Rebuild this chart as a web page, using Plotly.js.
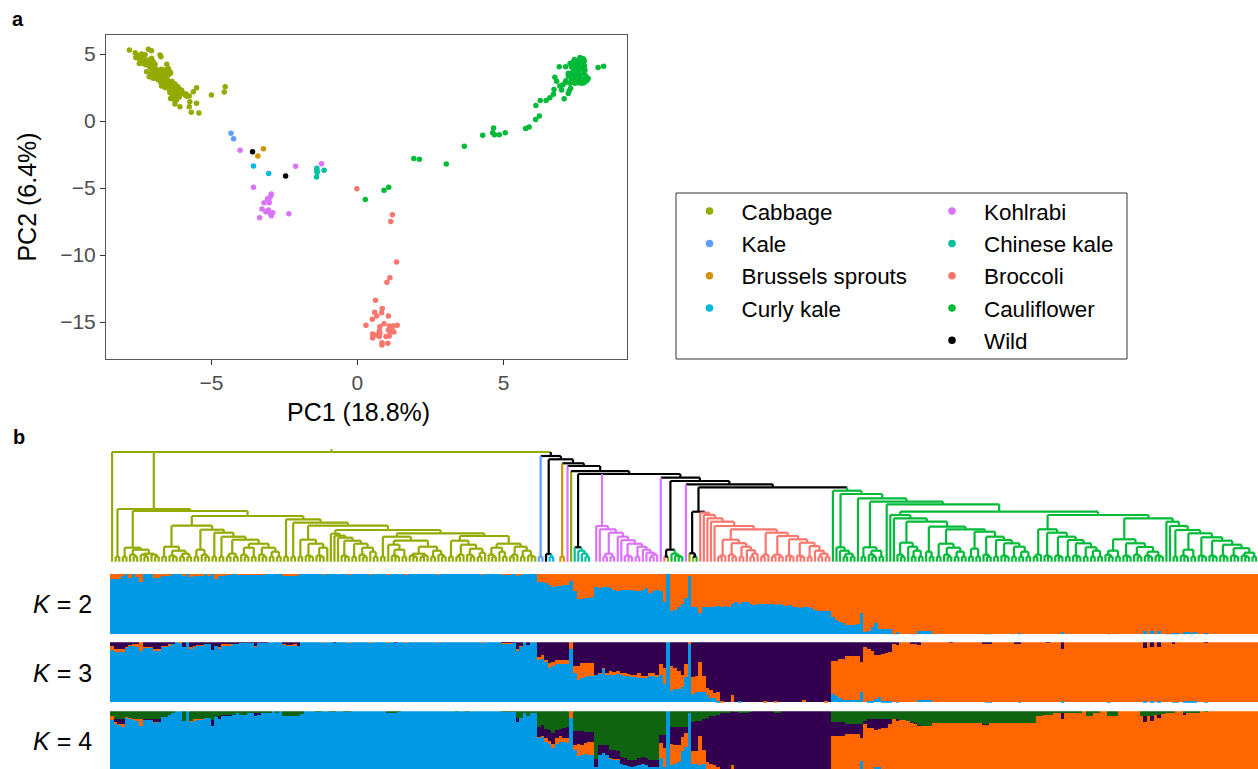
<!DOCTYPE html>
<html>
<head>
<meta charset="utf-8">
<script src="https://cdn.plot.ly/plotly-3.0.1.min.js"></script>
<style>html,body{margin:0;padding:0;background:#fff;overflow:hidden}#chart{width:1258px;height:769px}</style>
</head>
<body>
<div id="chart"></div>
<script>
// ---------- PCA scores (PC1, PC2) ----------
const cabbageX = [-7.81,-7.61,-7.59,-7.50,-7.33,-7.27,-7.16,-7.05,-6.76,-6.73,-7.47,-7.33,-7.39,-7.05,-7.05,-6.93,-6.53,-7.22,-7.13,-7.05,-6.93,-6.88,-6.82,-6.71,-6.65,-6.59,-6.48,-6.42,-6.40,-6.99,-6.88,-6.76,-6.59,-6.65,-6.71,-6.53,-6.48,-6.42,-6.25,-6.36,-6.25,-6.14,-6.08,-6.19,-6.31,-6.42,-6.14,-6.02,-5.96,-6.17,-6.25,-6.19,-6.25,-6.08,-5.76,-5.62,-5.51,-5.87,-5.74,-5.76,-5.51,-5.69,-5.43,-5.00,-4.53,-4.56,-7.11,-7.06,-6.99,-6.85,-6.93,-6.74,-6.63,-6.56,-6.50,-6.36,-6.31,-6.22,-6.10,-6.06,-6.21,-6.28,-6.40,-6.99,-7.11,-7.22,-7.30,-7.39,-7.54,-6.78,-6.67,-6.48,-6.90,-6.82,-6.73,-6.59,-6.44,-6.33,-6.40,-6.28,-6.15,-6.02,-5.90,-6.55,-6.70,-6.60,-7.00,-6.95,-7.25,-7.40,-7.15,-6.35,-6.20,-6.30,-6.10,-5.85];
const cabbageY = [5.30,5.10,4.75,4.68,4.80,4.95,5.35,5.25,4.93,4.80,4.30,4.30,4.55,4.68,4.30,4.23,4.23,3.68,3.31,3.86,3.93,3.68,3.43,3.86,3.68,3.56,3.93,3.68,3.56,3.56,3.18,3.11,3.31,2.93,2.61,2.81,2.69,2.51,2.76,2.31,2.44,2.44,2.36,2.19,2.11,2.11,2.06,2.19,2.06,1.94,1.69,1.57,1.27,1.07,1.87,2.19,2.49,2.01,1.44,1.07,1.32,0.65,0.60,1.94,2.56,2.16,4.03,3.53,4.05,3.36,3.31,3.56,3.11,2.69,3.06,2.56,2.51,2.36,2.26,2.06,2.06,2.31,2.81,4.43,4.18,4.43,4.60,5.00,4.93,3.81,3.43,3.43,3.61,3.06,2.86,2.51,2.31,1.94,1.69,1.60,2.55,2.30,1.95,3.75,3.30,3.80,3.20,3.90,4.20,4.75,4.55,2.95,2.10,1.90,1.80,1.85];
const kaleX = [-4.33,-4.24];
const kaleY = [-0.92,-1.32];
const brusselsX = [-3.22,-3.41];
const brusselsY = [-2.07,-2.61];
const curlyX = [-3.56,-3.04];
const curlyY = [-3.36,-3.91];
const kohlrabiX = [-4.02,-2.12,-1.23,-3.56,-2.95,-2.97,-3.08,-3.03,-3.20,-3.02,-3.27,-3.14,-3.05,-3.00,-2.90,-2.95,-3.35,-2.35];
const kohlrabiY = [-2.19,-3.38,-3.18,-4.95,-5.45,-5.60,-5.80,-5.85,-6.10,-6.10,-6.57,-6.77,-6.64,-6.84,-6.84,-7.07,-7.21,-6.92];
const chineseX = [-1.39,-1.39,-1.38,-1.14,-1.40];
const chineseY = [-3.53,-3.71,-3.83,-3.68,-4.18];
const broccoliX = [-0.02,1.20,1.14,1.34,1.11,1.01,0.62,0.85,0.59,0.83,0.66,1.06,0.51,0.29,0.91,0.77,1.09,1.22,1.36,1.06,0.75,1.25,1.12,0.52,0.75,0.52,0.98,1.09,0.84,0.84,1.04,0.66,1.17,0.77];
const broccoliY = [-5.05,-6.99,-7.49,-10.52,-11.69,-12.04,-13.38,-14.0,-14.28,-14.30,-14.55,-14.55,-14.80,-15.25,-15.12,-15.35,-15.30,-15.30,-15.25,-15.6,-15.65,-15.75,-15.75,-15.90,-16.09,-16.19,-16.09,-16.04,-16.54,-16.72,-16.59,-15.97,-15.5,-15.85];
const cauliX = [0.27,0.91,1.07,1.93,2.12,3.04,3.66,4.29,4.63,4.66,4.69,4.86,5.06,5.76,5.88,6.10,6.23,6.11,6.26,6.46,6.59,6.71,6.73,6.76,6.82,6.91,7.08,7.22,6.99,6.93,7.14,8.24,8.43,7.13,7.28,7.39,7.51,7.62,7.73,7.76,7.68,7.56,7.45,7.33,7.51,7.68,7.77,7.22,7.33,7.45,7.56,7.37,7.51,7.76,7.82,7.90,7.85,7.71,7.62,7.51,7.39,7.28,7.68,7.56,7.45,7.30,7.25,7.11,7.03,7.62,7.79,7.39,7.22,7.76,7.33,7.71,7.43,7.62,7.76];
const cauliY = [-5.85,-5.17,-4.95,-2.79,-2.86,-3.21,-1.89,-1.07,-0.87,-0.52,-1.02,-1.02,-0.87,-0.55,-0.45,0.12,0.37,1.15,1.54,1.54,1.74,1.99,2.36,3.26,2.96,4.05,1.67,2.06,2.31,2.61,3.01,4.00,4.08,4.05,4.30,4.43,4.50,4.55,4.65,4.43,4.30,4.18,4.25,4.05,3.93,4.00,4.10,3.56,3.56,3.56,3.68,3.31,3.36,3.56,3.36,3.18,3.01,3.11,3.18,3.06,2.94,2.81,2.81,2.86,2.81,2.44,2.26,2.86,2.69,3.43,3.81,3.81,3.36,2.86,3.11,3.86,4.60,4.75,4.55];
const wildX = [-3.59,-2.46];
const wildY = [-2.29,-4.11];

// ---------- Dendrogram: (height[colour] child child ...), leaf = group letter, _ = empty slot ----------
const p1 = "(5 a a)";
const t1 = "(6 a (5 a a))";
const t2 = "(7 a (5 a a))";
const cabA = `(14 ${p1} (12 ${t2} (8 ${t2} ${t2})))`;
const cabB1 = `(15 ${p1} (11 ${t1} (8 ${p1} ${p1})))`;
const cabBx = `(14 ${t2} ${p1})`;
const cabBy = `(14 ${t2} (10 ${p1} ${p1}))`;
const cabB3 = `(22 (8 ${p1} ${p1}) (18 ${cabBx} ${cabBy}))`;
const cabB2 = `(32 (12 ${p1} ${t2}) (29 ${p1} (25 ${p1} ${cabB3})))`;
const cabL0 = `(22 ${p1} (18 ${t1} (14 ${t1} a)))`;
const cabL1b = `(18 ${p1} (14 ${t2} (10 a ${p1})))`;
const cabL1 = `(28 a (26 a (24 a (21 ${t1} ${cabL1b}))))`;
const cabR1a = `(17 a (12 ${t1} ${p1}))`;
const cabR1b = `(15 (8 ${t1} (6 ${p1} a)) (11 ${p1} ${t2}))`;
const cabR1 = `(25 ${p1} (21 ${cabR1a} ${cabR1b}))`;
const cabR2L = `(21 ${p1} (17 (7 ${p1} a) (13 ${t2} (9 ${p1} a))))`;
const cabR2R = `(18 (14 ${t2} (10 a ${p1})) (15 (7 ${p1} a) (11 ${p1} ${t1})))`;
const cabR = `(28.4 ${cabR1} (25.7 ${cabR2L} ${cabR2R}))`;
const cabC = `(42.4 ${p1} (39 ${p1} (36 ${cabL0} (31.7 ${cabL1} ${cabR}))))`;
const cabbageClade = `(52.7 ${p1} (50.7 ${cabA} (45.7 (36 ${cabB1} ${cabB2}) ${cabC})))`;
const chineseClade = "(14.4w n (11 n (8 n (5 n n))))";
const rp = "(5 r r)";
const rt = "(6 r (5 r r))";
const kohlTail = `(15 ${rp} (12 r (9 r (7 ${rp} r))))`;
const kohlrabiClade = `(35.7 r (32.4 r (29 (8 ${rp} ${rp}) (25 r (21.5 r (18 ${rt} ${kohlTail}))))))`;
const mixedA = "(12 (5 o a) (8 f (6 f (5 f f))))";
const mixedB = "(8.4 a (5 a f))";
const op = "(5 o o)";
const ot = "(6 o (5 o o))";
const brocL = `(22 (6 ${op} o) (18.5 (7 o ${op}) (15 ${op} (11.5 o (8 ${op} o)))))`;
const brocTail = `(19 ${ot} (15.6 ${op} (11 o (8 ${op} ${op}))))`;
const brocR = `(29 (7 ${op} o) (25.7 (7 ${op} ${op}) (22.4 ${ot} ${brocTail})))`;
const broccoliClade = `(49 o (46.7 o (43.4 o (40 o (35.7 o (32.4 ${brocL} ${brocR}))))))`;
const fp = "(5 f f)";
const ft = "(6 f (5 f f))";
const ft2 = "(7 f (5 f f))";
const caulC1 = `(14.4 f (11 f (8 ${fp} ${fp})))`;
const caulC2 = `(14.4 ${fp} (11 ${ft2} ${fp}))`;
const caulD1 = `(19 ${ft2} (15 f (11 ${fp} ${fp})))`;
const caulD2 = `(10 f ${fp})`;
const caulD3 = `(18 ${fp} (14 ${ft2} (10 ${fp} ${fp})))`;
const caulD4 = `(13 ${fp} ${fp})`;
const caulD5 = `(25 ${ft2} (21.7 ${fp} (18.4 ${ft} (15 ${fp} (10 ${fp} ${fp})))))`;
const caulD = `(46.7 f (43.4 f (40 ${caulD1} (35 ${caulD2} (32.4 ${caulD3} (30 ${caulD4} ${caulD5}))))))`;
const caulE1t = `(21.7 ${fp} (18.4 ${ft} (14.4 ${fp} (11 ${fp} ${fp}))))`;
const caulE1 = `(32.4 (7 ${fp} f) (29 ${ft} (25 ${ft} ${caulE1t})))`;
const caulF1 = `(22.4 (11 ${ft2} ${fp}) (18.4 ${ft} (14.7 ${ft2} (10 ${ft} ${ft}))))`;
const caulF2t = `(17 ${ft} (13.5 ${ft} (9 ${ft} ${fp})))`;
const caulF2m = `(28.4 (12 ${ft} ${fp}) (24.4 ${ft} (21 ${ft} ${caulF2t})))`;
const caulF2 = `(40 f (35.7 f (31.7 ${fp} ${caulF2m})))`;
const caulE = `(46.7 ${caulE1} (43.4 ${caulF1} ${caulF2}))`;
const cauliflowerClade = `(71 f (67.7 ${caulC1} (63.4 f (60 ${caulC2} (57.4 f (50 ${caulD} ${caulE}))))))`;
const lowerClades = `(84 r (80.7 ${mixedA} (77.4 r (74.4 (50w ${mixedB} ${broccoliClade}) ${cauliflowerClade}))))`;
const midClades = `(95.7 r (90.5 a (87.7 ${chineseClade} _ ${kohlrabiClade} ${lowerClades})))`;
const otherClades = `(105.7 (5 k k) (102.4 (7.7 w (5 u u)) (98.4 _ (5 b b) ${midClades})))`;
const fullTree = `(109.7a a ${cabbageClade} ${otherClades})`;
const rootStemTop = 112.5;

// ---------- Ancestry shares per accession, % (remainder of each bar = orange) ----------
const k2Blue = [
91,91,91,97,100,94,100,95,87,100,100,100,94,94,97,98,98,100,100,100,
96,100,95,98,98,97,100,96,100,92,98,98,99,99,100,99,99,99,99,99,
99,99,99,100,100,100,100,100,98,98,98,97,99,100,100,100,100,100,100,99,
100,100,100,100,100,100,99,100,100,100,100,100,99,100,100,100,100,99,100,100,
100,100,99,100,100,100,100,100,100,100,100,99,100,100,100,100,100,100,100,100,
100,100,100,99,100,100,100,100,100,99,99,99,100,97,99,100,100,100,100,86,
87,85,81,79,80,80,81,81,88,71,58,59,60,60,62,79,76,78,78,76,
73,72,73,73,73,73,72,72,73,76,69,72,73,72,54,100,38,40,45,51,
61,98,45,45,35,45,46,45,46,47,45,47,45,51,54,51,54,54,51,49,
50,50,51,51,50,49,50,49,47,48,45,45,44,45,45,43,40,38,38,38,
38,29,24,21,18,15,15,15,17,35,4,6,12,18,8,8,8,8,1,3,
0,0,0,1,1,6,6,6,6,0,0,0,0,0,0,0,0,0,0,0,
0,0,0,0,1,1,0,0,0,0,0,0,0,2,0,0,0,0,0,0,
0,0,0,0,0,4,0,0,0,0,0,0,0,0,0,0,0,0,1,0,
0,0,0,0,0,0,0,0,6,0,5,0,5,0,1,1,2,2,0,3,
4,2,4,0,0,2,0,0,0,0,0,0,0,0,0,0,0,0,0,0];

const k3Blue = [
87,85,85,85,91,94,94,91,85,91,91,91,86,86,92,92,95,97,100,99,
92,100,90,92,94,94,96,96,86,94,89,95,95,95,98,98,99,99,99,99,
92,99,99,99,100,100,100,100,96,94,94,95,93,100,100,100,100,100,100,99,
100,100,99,100,100,100,99,100,100,100,100,100,99,100,100,100,100,99,100,99,
100,100,99,100,100,100,100,100,100,100,100,99,100,100,100,100,100,100,100,100,
100,100,100,99,100,100,100,100,100,98,98,98,99,86,93,100,95,100,100,71,
72,67,57,60,63,64,64,63,88,49,37,41,42,43,43,46,48,56,47,46,
46,47,46,44,44,43,43,41,41,42,44,44,42,46,30,100,19,22,23,26,
42,98,14,17,18,17,13,7,7,3,0,0,0,0,0,3,0,0,0,0,
0,0,0,0,0,0,0,0,0,0,0,0,0,0,0,0,0,0,0,0,
0,14,10,7,4,4,4,4,4,18,0,3,3,5,9,3,3,3,0,1,
0,0,0,0,0,4,4,4,4,0,0,0,0,0,0,0,0,0,0,0,
0,0,0,0,1,1,0,0,0,0,0,0,0,1,0,0,0,0,0,0,
0,0,0,0,0,2,0,0,0,0,0,0,0,0,0,0,0,0,1,0,
0,0,0,0,0,0,0,0,2,0,2,0,2,0,0,0,1,1,0,2,
2,2,2,0,0,1,0,0,0,0,0,0,0,0,0,0,0,0,0,0];

const k3Purple = [
6,12,12,12,8,5,4,3,0,8,8,8,11,11,7,7,4,3,0,0,
8,0,9,7,5,5,4,4,14,6,8,4,4,4,2,2,1,1,1,1,
7,1,1,1,0,0,0,0,3,5,5,4,7,0,0,0,0,0,0,0,
0,0,1,0,0,0,0,0,0,0,0,0,0,0,0,0,0,0,0,1,
0,0,0,0,0,0,0,0,0,0,0,0,0,0,0,0,0,0,0,0,
0,0,0,0,0,0,0,0,0,1,1,1,1,12,6,0,5,0,0,24,
22,29,34,33,29,30,30,29,0,39,40,34,34,34,34,54,51,43,51,48,
50,48,51,52,53,54,54,52,57,56,52,52,54,36,43,0,40,43,48,54,
36,0,58,57,33,57,76,79,84,83,97,100,100,88,100,97,100,100,100,100,
100,100,98,100,100,98,100,100,100,100,100,100,100,96,100,100,100,100,100,98,
100,32,32,28,28,23,23,23,23,33,9,12,15,21,22,20,19,16,2,5,
0,0,0,2,3,5,0,0,0,0,0,0,0,0,1,0,0,0,0,0,
0,0,0,2,2,2,0,0,0,0,0,0,2,2,0,0,0,0,0,0,
0,1,0,0,0,11,0,0,0,0,0,0,0,0,0,0,0,0,0,0,
0,0,0,0,0,0,0,0,10,0,9,0,9,0,0,0,3,0,0,0,
0,0,0,0,0,1,0,0,0,0,0,0,0,0,0,0,0,0,0,0];

const k4Blue = [
85,80,78,75,89,87,86,84,76,86,86,86,81,82,90,90,94,96,100,100,
83,100,82,85,86,86,89,89,76,90,86,92,92,92,94,96,94,94,96,96,
93,95,96,98,98,100,98,100,91,91,91,91,91,95,100,100,100,99,99,100,
100,99,99,100,100,99,99,100,100,100,100,100,100,100,100,100,100,97,98,98,
99,100,100,100,100,100,100,100,100,100,100,100,100,100,100,100,99,100,100,99,
100,100,100,100,100,100,100,100,100,99,99,99,99,82,88,97,92,97,97,56,
58,49,46,38,46,49,48,47,88,36,26,27,29,28,28,8,27,30,27,21,
19,19,13,11,9,8,9,11,13,11,8,8,8,22,8,100,11,13,16,33,
41,96,13,12,11,13,4,2,2,2,0,0,0,0,0,0,0,0,0,0,
0,0,0,0,0,0,0,0,0,0,0,0,0,0,0,0,0,0,0,0,
0,3,3,3,3,3,3,3,3,18,0,2,2,7,7,2,2,2,0,0,
0,0,0,0,0,0,0,0,0,0,0,0,0,0,0,0,0,0,0,0,
0,0,0,0,0,0,0,0,0,0,0,0,0,0,0,0,0,0,0,0,
0,0,0,0,0,0,0,0,0,0,0,0,0,0,0,0,0,0,0,0,
0,0,0,0,0,0,0,0,0,0,0,0,0,0,0,0,0,0,0,0,
0,0,0,0,0,0,0,0,0,0,0,0,0,0,0,0,0,0,0,0];

const k4Purple = [
0,6,8,8,0,0,0,0,0,1,1,1,5,5,0,0,0,0,0,0,
0,0,0,0,0,0,0,0,9,0,6,2,2,2,0,0,0,0,0,0,
3,1,0,0,0,0,0,0,0,0,0,0,0,0,0,0,0,0,0,0,
0,0,0,0,0,0,0,0,0,0,0,0,0,0,0,0,0,0,0,0,
0,0,0,0,0,0,0,0,0,0,0,0,0,0,0,0,0,0,0,0,
0,0,0,0,0,0,0,0,0,0,0,0,0,6,0,0,0,0,0,17,
18,15,18,17,14,12,17,19,0,23,22,23,19,17,17,12,17,14,17,14,
16,13,11,11,10,11,10,11,11,11,11,11,11,14,22,0,28,31,31,17,
11,0,48,50,25,50,72,78,81,87,96,97,98,90,99,98,96,97,99,100,
100,100,100,100,100,96,98,100,100,100,100,100,100,100,100,100,100,100,100,100,
100,23,23,23,23,17,17,17,17,24,3,14,14,17,15,14,14,8,0,4,
0,0,0,1,1,1,0,0,0,0,0,0,0,0,0,0,0,0,0,0,
0,0,0,1,1,0,0,0,0,0,0,0,0,0,0,0,0,0,0,0,
0,0,0,0,0,10,0,0,0,0,0,0,0,0,0,0,0,0,0,0,
0,0,0,0,0,0,0,0,10,0,9,0,6,0,0,0,0,0,0,2,
0,0,0,0,0,0,0,0,0,0,0,0,0,0,0,0,0,0,0,0];

const k4Green = [
8,13,13,14,10,11,13,14,13,13,13,13,13,13,10,10,6,4,0,0,
17,0,17,14,13,13,11,11,15,10,8,6,6,6,6,4,6,6,4,4,
4,4,4,2,2,0,2,0,9,9,9,9,9,5,0,0,0,1,1,0,
0,1,1,0,0,1,1,0,0,0,0,0,0,0,0,0,0,3,2,2,
1,0,0,0,0,0,0,0,0,0,0,0,0,0,0,0,1,0,0,1,
0,0,0,0,0,0,0,0,0,1,1,1,1,12,12,3,8,3,3,26,
23,30,32,37,31,30,28,26,0,33,33,33,34,34,34,80,56,56,56,64,
64,67,76,78,81,81,81,78,76,78,81,81,81,39,39,0,26,26,26,26,
26,4,19,17,17,14,12,9,8,6,3,3,2,0,1,2,4,3,1,0,
0,0,0,0,0,4,2,0,0,0,0,0,0,0,0,0,0,0,0,0,
0,19,19,19,19,21,21,21,21,21,17,14,14,14,14,14,14,13,13,13,
15,15,16,18,20,23,25,25,25,20,20,20,20,20,20,20,20,20,20,20,
20,20,20,22,22,20,20,20,20,20,20,20,20,20,20,20,20,20,9,9,
7,7,7,4,4,3,4,2,4,4,4,0,8,8,3,3,0,0,9,9,
9,0,0,0,0,0,0,8,8,8,8,6,6,5,4,4,4,0,0,4,
2,2,2,2,0,1,0,0,0,0,0,0,0,0,0,0,0,0,0,0];

// ---------- Styling ----------
const FONT = '"Liberation Sans", Arial, sans-serif';
const groupColor = {a:'#93AA00', k:'#619CFF', b:'#D39200', u:'#00B9E3', r:'#DB72FB', n:'#00C19F', o:'#F8766D', f:'#00BA38', w:'#000000'};
const barBlue = '#0099E6', barOrange = '#FF6600', barPurple = '#32004F', barGreen = '#0E640F';

// ---------- Dendrogram layout ----------
function parseTree(s) {
  const toks = s.match(/\(|\)|[^\s()]+/g);
  let p = 0, leaf = 0;
  function node() {
    if (p >= toks.length) throw new Error('unbalanced tree');
    const t = toks[p++];
    if (t !== '(') return {h: 0, x: leaf++, letters: new Set([t]), kids: []};
    const head = toks[p++].match(/^([\d.]+)([a-z]?)$/);
    const n = {h: +head[1], over: head[2], kids: []};
    while (toks[p] !== ')') {
      if (p >= toks.length) throw new Error('unbalanced tree');
      if (toks[p] === '_') { p++; leaf++; continue; }
      n.kids.push(node());
    }
    p++;
    n.x = (n.kids[0].x + n.kids[n.kids.length - 1].x) / 2;
    n.letters = new Set();
    n.kids.forEach(k => k.letters.forEach(l => n.letters.add(l)));
    return n;
  }
  return node();
}
function nodeColor(n) {
  if (n.over) return groupColor[n.over];
  return n.letters.size === 1 ? groupColor[[...n.letters][0]] : '#000000';
}
const segs = {};
function addSeg(col, xs, ys) {
  const s = segs[col] || (segs[col] = {x: [], y: []});
  s.x.push(xs[0], xs[1], null); s.y.push(ys[0], ys[1], null);
}
function walk(n) {
  if (!n.kids.length) return;
  const c = nodeColor(n);
  n.kids.forEach(k => { addSeg(nodeColor(k), [k.x, k.x], [k.h, n.h]); walk(k); });
  addSeg(c, [n.kids[0].x, n.kids[n.kids.length - 1].x], [n.h, n.h]);
}
const root = parseTree(fullTree);
walk(root);
addSeg(nodeColor(root), [root.x, root.x], [root.h, rootStemTop]);

// ---------- Traces ----------
const data = [];
function pts(name, x, y, color, legend) {
  data.push({type: 'scatter', mode: 'markers', name, x, y, xaxis: 'x', yaxis: 'y', showlegend: false,
    legendgroup: name, marker: {color, size: 5.5, line: {width: 0}}, cliponaxis: true});
  data.push({type: 'scatter', mode: 'markers', name, x: [null], y: [null], xaxis: 'x', yaxis: 'y',
    legend, legendgroup: name, marker: {color, size: 7.5, line: {width: 0}}});
}
pts('Cabbage', cabbageX, cabbageY, groupColor.a, 'legend');
pts('Kale', kaleX, kaleY, groupColor.k, 'legend');
pts('Brussels sprouts', brusselsX, brusselsY, groupColor.b, 'legend');
pts('Curly kale', curlyX, curlyY, groupColor.u, 'legend');
pts('Kohlrabi', kohlrabiX, kohlrabiY, groupColor.r, 'legend2');
pts('Chinese kale', chineseX, chineseY, groupColor.n, 'legend2');
pts('Broccoli', broccoliX, broccoliY, groupColor.o, 'legend2');
pts('Cauliflower', cauliX, cauliY, groupColor.f, 'legend2');
pts('Wild', wildX, wildY, groupColor.w, 'legend2');
Object.keys(segs).forEach(col => data.push({type: 'scatter', mode: 'lines', x: segs[col].x, y: segs[col].y,
  xaxis: 'x2', yaxis: 'y3', showlegend: false, hoverinfo: 'skip', connectgaps: false,
  line: {color: col, width: 2.2, shape: 'linear'}}));

const idx = k2Blue.map((_, i) => i);
function rest(...arrs) { return idx.map(i => 100 - arrs.reduce((a, b) => a + b[i], 0)); }
function bar(name, y, color, yaxis) {
  return {type: 'bar', name, x: idx, y, xaxis: 'x2', yaxis, width: 1, showlegend: false,
    marker: {color, line: {width: 0}}, hoverinfo: 'skip'};
}
data.push(bar('K2 blue', k2Blue, barBlue, 'y4'), bar('K2 orange', rest(k2Blue), barOrange, 'y4'));
data.push(bar('K3 blue', k3Blue, barBlue, 'y5'), bar('K3 orange', rest(k3Blue, k3Purple), barOrange, 'y5'),
          bar('K3 purple', k3Purple, barPurple, 'y5'));
data.push(bar('K4 blue', k4Blue, barBlue, 'y6'), bar('K4 orange', rest(k4Blue, k4Purple, k4Green), barOrange, 'y6'),
          bar('K4 purple', k4Purple, barPurple, 'y6'), bar('K4 green', k4Green, barGreen, 'y6'));

// ---------- Layout ----------
const W = 1258, H = 769;
const dy = (top, bottom) => [1 - bottom / H, 1 - top / H];
const hidden = {visible: false, fixedrange: true};
function ann(text, xpx, ypx, size, extra) {
  return Object.assign({text, x: xpx / W, y: 1 - ypx / H, xref: 'paper', yref: 'paper', showarrow: false,
    xanchor: 'center', yanchor: 'middle', font: {family: FONT, size, color: '#000'}}, extra || {});
}
const legendBase = {font: {family: FONT, size: 22.4, color: '#000'}, xanchor: 'left', yanchor: 'top',
  xref: 'paper', yref: 'paper', bgcolor: 'rgba(0,0,0,0)', borderwidth: 0, itemwidth: 54,
  tracegroupgap: 0.2, traceorder: 'grouped', itemclick: false, itemdoubleclick: false};
const axisFrame = {showline: true, mirror: true, linecolor: '#555', linewidth: 1, showgrid: false, zeroline: false,
  ticks: 'outside', ticklen: 5, tickwidth: 1.4, tickcolor: '#333', tickfont: {family: FONT, size: 21, color: '#4D4D4D'}};
const layout = {
  width: W, height: H, margin: {l: 0, r: 0, t: 0, b: 0}, paper_bgcolor: '#fff', plot_bgcolor: 'rgba(0,0,0,0)',
  barmode: 'stack', bargap: 0, hovermode: false, font: {family: FONT},
  xaxis: Object.assign({}, axisFrame, {domain: [106 / W, 627 / W], range: [-8.61, 9.23], anchor: 'y',
    tickvals: [-5, 0, 5]}),
  yaxis: Object.assign({}, axisFrame, {domain: dy(35, 359), range: [-17.76, 6.42], anchor: 'x',
    tickvals: [-15, -10, -5, 0, 5], title: {text: 'PC2 (6.4%)', standoff: 16, font: {family: FONT, size: 25, color: '#000'}}}),
  xaxis2: Object.assign({}, hidden, {domain: [0, 1], range: [-31.26, 319.54], anchor: 'y3'}),
  yaxis3: Object.assign({}, hidden, {domain: dy(445, 565), range: [-3.3, 116.7], anchor: 'x2'}),
  yaxis4: Object.assign({}, hidden, {domain: dy(574, 634.3), range: [0, 100], anchor: 'x2'}),
  yaxis5: Object.assign({}, hidden, {domain: dy(642.3, 702.7), range: [0, 100], anchor: 'x2'}),
  yaxis6: Object.assign({}, hidden, {domain: dy(711.3, 769), range: [4.5, 100], anchor: 'x2'}),
  legend: Object.assign({}, legendBase, {x: 677.5 / W, y: 1 - 190 / H}),
  legend2: Object.assign({}, legendBase, {x: 920 / W, y: 1 - 190 / H}),
  shapes: [{type: 'rect', xref: 'paper', yref: 'paper', x0: 676 / W, x1: 1127 / W, y0: 1 - 193 / H, y1: 1 - 359 / H,
    line: {color: '#333', width: 1}, fillcolor: 'rgba(0,0,0,0)', layer: 'below'}],
  annotations: [
    ann('PC1 (18.8%)', 358, 412, 25),
    ann('<b>a</b>', 18, 19, 20),
    ann('<b>b</b>', 19, 437, 20),
    ann('<i>K</i> = 2', 62, 604, 25),
    ann('<i>K</i> = 3', 62, 673, 25),
    ann('<i>K</i> = 4', 62, 741, 25)
  ]
};
Plotly.newPlot('chart', data, layout, {displayModeBar: false, responsive: false});
</script>
</body>
</html>
